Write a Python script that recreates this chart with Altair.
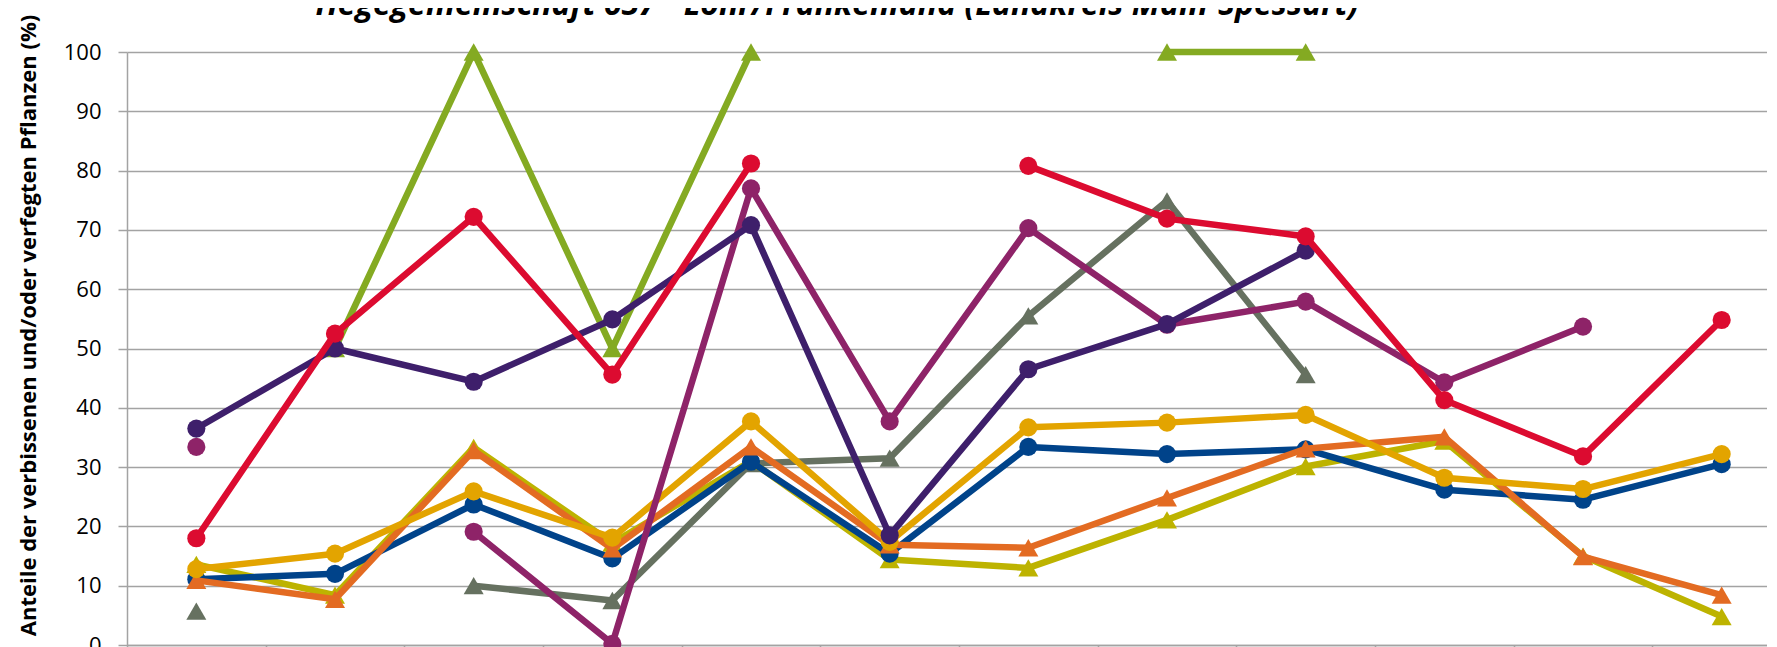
import altair as alt
import pandas as pd

# ---- data ----
years = ["1991", "1994", "1997", "2000", "2003", "2006",
         "2009", "2012", "2015", "2018", "2021", "2024"]

title_text = "Hegegemeinschaft 657 - Lohr/Frankenland (Landkreis Main-Spessart)"
y_title = "Anteile der verbissenen und/oder verfegten Pflanzen (%)"

series_names = ["Buche Leittrieb", "Tanne Leittrieb", "Edellaubholz Leittrieb",
                "Fichte Leittrieb", "Eiche Leittrieb", "Kiefer Leittrieb",
                "Buche oben", "Eiche oben", "Edellaubholz oben"]

green = [None, 50, 100, 50, 100, None, None, 100, 100, None, None, None]
gray = [5.7, None, 10.0, 7.5, 30.6, 31.5, 55.5, 74.9, 45.6, None, None, None]
olive = [13.6, 8.4, 33.3, 17.2, 31.0, 14.4, 13.0, 21.1, 30.1, 34.4, 15.0, 4.8]
blue = [11.1, 12.0, 23.7, 14.6, 30.9, 15.4, 33.4, 32.2, 33.0, 26.2, 24.5, 30.5]
orange = [10.9, 7.7, 32.8, 16.2, 33.4, 16.9, 16.4, 24.8, 33.1, 35.1, 14.9, 8.4]
gold = [12.8, 15.4, 25.9, 18.1, 37.7, 17.4, 36.7, 37.5, 38.8, 28.2, 26.3, 32.2]
magenta = [33.4, None, 19.1, 0.2, 77.0, 37.7, 70.3, 54.0, 57.9, 44.3, 53.7, None]
purple = [36.5, 50.0, 44.4, 54.9, 70.8, 18.5, 46.5, 54.1, 66.5, None, None, None]
red = [18.0, 52.5, 72.2, 45.6, 81.2, None, 80.8, 71.9, 68.9, 41.3, 31.8, 54.8]

series_values = [green, gray, olive, blue, orange, gold, magenta, purple, red]
series_colors = ["#84AA22", "#667160", "#BDB300", "#00438A", "#E36B22",
                 "#E3A400", "#8E2368", "#3E1F6B", "#DC0B30"]
series_shapes = ["triangle-up", "triangle-up", "triangle-up", "circle", "triangle-up",
                 "circle", "circle", "circle", "circle"]

GRID = "#a3a3a3"
FONT = "Open Sans"

x_enc = alt.X("year:O", sort=years, bandPosition=0.5,
              scale=alt.Scale(type="band", domain=years, paddingInner=0, paddingOuter=0),
              axis=alt.Axis(title=None, tickBand="extent", tickSize=10, tickColor=GRID,
                            tickWidth=1.5, domainColor=GRID, domainWidth=1.5, grid=False,
                            labelAngle=0, labelFont=FONT, labelFontSize=21,
                            labelColor="#000000", labelPadding=6))
y_enc = alt.Y("value:Q", scale=alt.Scale(domain=[0, 100], nice=False, zero=True),
              axis=alt.Axis(values=list(range(0, 101, 10)), tickSize=9, tickColor=GRID,
                            tickWidth=1.5, grid=True, gridColor=GRID, gridWidth=1.5,
                            domainColor=GRID, domainWidth=1.5, labelPadding=17,
                            labelFont=FONT, labelFontSize=22, labelColor="#000000",
                            title=y_title, titleFont=FONT, titleFontSize=22,
                            titleFontWeight="bold", titleColor="#000000",
                            titleAngle=270, titleX=-99, titleY=273,
                            titleAlign="center", titleBaseline="middle"))

layers = []
for name, vals, col, shp in zip(series_names, series_values, series_colors, series_shapes):
    rows = []
    seg = 0
    for yr, v in zip(years, vals):
        if v is None:
            seg += 1
            continue
        rows.append({"year": yr, "value": v, "seg": seg, "series": name})
    df = pd.DataFrame(rows)
    base = alt.Chart(df).encode(x=x_enc, y=y_enc)
    line = base.mark_line(color=col, strokeWidth=6.5, strokeJoin="round").encode(detail="seg:N")
    size = 330 if shp == "circle" else 400
    pts = base.mark_point(shape=shp, filled=True, size=size, color=col, opacity=1)
    layers.append(line)
    layers.append(pts)

title_df = pd.DataFrame({"t": [title_text]})
title_layer = alt.Chart(title_df).mark_text(
    font=FONT, fontSize=32, fontWeight="bold", fontStyle="italic",
    align="center", baseline="alphabetic", color="#000000"
).encode(text="t:N", x=alt.value(710), y=alt.value(-37))
layers.append(title_layer)

chart = alt.layer(*layers).properties(
    width=1664, height=593,
    padding={"left": 119, "top": 44, "right": -24, "bottom": 40},
    autosize=alt.AutoSizeParams(type="none"),
    background="#ffffff",
).configure_view(stroke=None)

chart.save("out.html", embed_options={"renderer": "svg", "actions": False})
